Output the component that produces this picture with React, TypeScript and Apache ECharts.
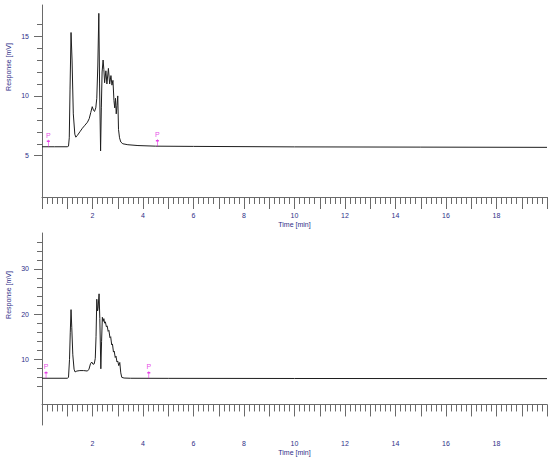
import React, { useEffect, useRef } from "react";
import * as echarts from "echarts";

const topTime = [0, 0.5, 1.0, 1.05, 1.08, 1.11, 1.15, 1.19, 1.24, 1.3, 1.34, 1.4, 1.5, 1.6, 1.7, 1.8, 1.87, 1.93, 1.99, 2.04, 2.08, 2.13, 2.17, 2.21, 2.25, 2.28, 2.32, 2.35, 2.38, 2.42, 2.45, 2.48, 2.53, 2.57, 2.63, 2.68, 2.73, 2.77, 2.81, 2.85, 2.88, 2.91, 2.94, 2.97, 3.0, 3.03, 3.07, 3.12, 3.2, 3.4, 3.8, 4.5, 6, 10, 15, 20];
const topResponse = [5.75, 5.75, 5.75, 5.8, 6.5, 10.5, 15.3, 13.0, 8.5, 6.8, 6.55, 6.7, 7.0, 7.3, 7.55, 7.8, 8.1, 8.6, 9.1, 8.8, 8.7, 9.0, 9.8, 12.5, 16.9, 11.0, 5.4, 9.0, 12.0, 13.0, 12.2, 11.1, 12.1, 11.0, 12.3, 11.0, 11.7, 10.9, 11.3, 9.6, 9.0, 9.8, 8.5, 9.2, 10.0, 7.2, 6.5, 6.15, 6.0, 5.92, 5.85, 5.8, 5.78, 5.74, 5.72, 5.7];

const bottomTime = [0, 1.0, 1.05, 1.09, 1.12, 1.15, 1.18, 1.22, 1.27, 1.31, 1.38, 1.5, 1.65, 1.8, 1.86, 1.92, 1.97, 2.02, 2.07, 2.11, 2.14, 2.17, 2.2, 2.22, 2.26, 2.29, 2.33, 2.36, 2.39, 2.42, 2.45, 2.48, 2.51, 2.55, 2.58, 2.62, 2.65, 2.69, 2.72, 2.76, 2.79, 2.83, 2.86, 2.9, 2.93, 2.97, 3.0, 3.04, 3.08, 3.12, 3.16, 3.25, 3.5, 5, 10, 20];
const bottomResponse = [5.8, 5.8, 6.0, 10, 16, 21.0, 17, 11, 7.8, 7.2, 7.4, 7.5, 7.5, 7.4, 7.8, 9.0, 9.4, 8.9, 9.0, 10.2, 15, 23.3, 20.7, 21.2, 24.5, 19.0, 7.9, 14, 19.3, 18.4, 19.0, 18.0, 18.3, 17.2, 17.4, 16.2, 16.4, 14.8, 15.0, 13.2, 13.4, 11.6, 11.8, 10.4, 10.7, 9.4, 9.6, 8.6, 9.3, 7.0, 6.0, 5.85, 5.8, 5.78, 5.75, 5.72];

const topMarkers = [[0.25, 5.75], [4.57, 5.8]];
const bottomMarkers = [[0.16, 5.8], [4.23, 5.8]];

const topMajorTicks = [5, 10, 15];
const topMinorTicks = [6, 7, 8, 9, 11, 12, 13, 14, 16];
const bottomMajorTicks = [10, 20, 30];
const bottomMinorTicks = [4, 6, 8, 12, 14, 16, 18, 22, 24, 26, 28, 32, 34, 36];

const labelColor = "#2f2f88";
const axisColor = "#6a6a6a";
const markerColor = "#e010e0";

function makeX(gridIndex: number) {
  return {
    type: "value",
    gridIndex,
    min: 0,
    max: 20,
    interval: 1,
    name: "Time [min]",
    nameLocation: "middle",
    nameGap: 24,
    nameTextStyle: { color: labelColor, fontSize: 7, fontFamily: "Arial" },
    axisLine: { show: true, lineStyle: { color: axisColor, width: 1 } },
    axisTick: { show: true, length: 12, lineStyle: { color: axisColor } },
    minorTick: { show: true, splitNumber: 5, length: 7, lineStyle: { color: axisColor } },
    splitLine: { show: false },
    minorSplitLine: { show: false },
    axisLabel: {
      margin: 15,
      color: labelColor,
      fontSize: 7,
      fontFamily: "Arial",
      formatter: (v: number) => (v > 0 && v < 20 && v % 2 === 0 ? String(v) : ""),
    },
  };
}

function makeYMain(gridIndex: number, min: number, max: number, major: number[]) {
  return {
    type: "value",
    gridIndex,
    position: "left",
    min,
    max,
    axisLine: { show: true, lineStyle: { color: axisColor, width: 1 } },
    axisTick: { show: true, length: 8, customValues: major, lineStyle: { color: axisColor } },
    axisLabel: { show: true, customValues: major, margin: 13, color: labelColor, fontSize: 7, fontFamily: "Arial" },
    splitLine: { show: false },
  };
}

function makeYMinor(gridIndex: number, min: number, max: number, minor: number[]) {
  return {
    type: "value",
    gridIndex,
    position: "left",
    offset: 0,
    min,
    max,
    axisLine: { show: false },
    axisTick: { show: true, length: 5, customValues: minor, lineStyle: { color: axisColor } },
    axisLabel: { show: false },
    splitLine: { show: false },
  };
}

function markerSeries(data: number[][], xi: number, yi: number) {
  return {
    type: "scatter",
    xAxisIndex: xi,
    yAxisIndex: yi,
    data,
    z: 5,
    symbol: "path://M0,0L0,7M-1.5,1.5L1.5,1.5",
    symbolSize: [3, 7],
    symbolOffset: [0, -3.5],
    itemStyle: { color: "none", borderColor: markerColor, borderWidth: 1 },
    label: {
      show: true,
      formatter: "P",
      position: "top",
      distance: 0,
      offset: [0, 3],
      color: markerColor,
      fontSize: 7,
      fontFamily: "Arial",
    },
    emphasis: { disabled: true },
  };
}

export default function App() {
  const ref = useRef<HTMLDivElement>(null);
  useEffect(() => {
    if (!ref.current) return;
    const chart = echarts.init(ref.current, undefined, { renderer: "svg" });
    const topData = topTime.map((t, i) => [t, topResponse[i]]);
    const bottomData = bottomTime.map((t, i) => [t, bottomResponse[i]]);
    chart.setOption({
      animation: false,
      backgroundColor: "#ffffff",
      grid: [
        { left: 42, top: 5, width: 506, height: 192 },
        { left: 42, top: 233, width: 506, height: 192 },
      ],
      xAxis: [makeX(0), makeX(1)],
      yAxis: [
        makeYMain(0, 1.55, 17.6, topMajorTicks),
        makeYMinor(0, 1.55, 17.6, topMinorTicks),
        makeYMain(1, -4.55, 37.97, bottomMajorTicks),
        makeYMinor(1, -4.55, 37.97, bottomMinorTicks),
      ],
      graphic: [
        {
          type: "text",
          x: 8,
          y: 67,
          rotation: Math.PI / 2,
          style: { text: "Response [mV]", fill: labelColor, font: "7px Arial", textAlign: "center", textVerticalAlign: "middle" },
        },
        {
          type: "text",
          x: 8,
          y: 295,
          rotation: Math.PI / 2,
          style: { text: "Response [mV]", fill: labelColor, font: "7px Arial", textAlign: "center", textVerticalAlign: "middle" },
        },
      ],
      series: [
        {
          type: "line",
          xAxisIndex: 0,
          yAxisIndex: 0,
          data: topData,
          showSymbol: false,
          lineStyle: { color: "#1e1e1e", width: 1 },
          emphasis: { disabled: true },
        },
        {
          type: "line",
          xAxisIndex: 1,
          yAxisIndex: 2,
          data: bottomData,
          showSymbol: false,
          lineStyle: { color: "#1e1e1e", width: 1 },
          emphasis: { disabled: true },
        },
        markerSeries(topMarkers, 0, 0),
        markerSeries(bottomMarkers, 1, 2),
      ],
    });
    return () => chart.dispose();
  }, []);
  return <div ref={ref} style={{ position: "fixed", left: 0, top: 0, width: 550, height: 463, background: "#fff" }} />;
}
